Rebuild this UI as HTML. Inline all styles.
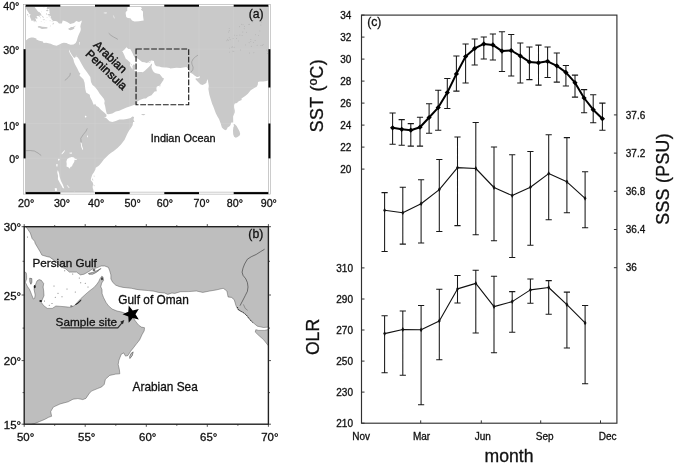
<!DOCTYPE html><html><head><meta charset="utf-8"><title>Figure</title>
<style>html,body{margin:0;padding:0;background:#fff}svg{display:block;will-change:transform}text{font-family:"Liberation Sans",Arial,Helvetica,sans-serif;fill:#111;stroke:#111;stroke-width:0.3px}</style></head><body>
<svg width="675" height="465" viewBox="0 0 675 465">
<rect width="675" height="465" fill="#fff"/>
<defs><clipPath id="ca"><rect x="25.6" y="6.7" width="242.8" height="185.4"/></clipPath>
<clipPath id="cb"><rect x="24.2" y="226.7" width="244.2" height="197.5"/></clipPath></defs>
<g clip-path="url(#ca)">
<rect x="25.6" y="6.7" width="242.8" height="185.4" fill="#c9c9c9"/>
<path d="M60.3 6.7V192.1" stroke="#d0d0d0" stroke-width="0.5"/>
<path d="M95.0 6.7V192.1" stroke="#d0d0d0" stroke-width="0.5"/>
<path d="M129.7 6.7V192.1" stroke="#d0d0d0" stroke-width="0.5"/>
<path d="M164.3 6.7V192.1" stroke="#d0d0d0" stroke-width="0.5"/>
<path d="M199.0 6.7V192.1" stroke="#d0d0d0" stroke-width="0.5"/>
<path d="M233.7 6.7V192.1" stroke="#d0d0d0" stroke-width="0.5"/>
<path d="M25.6 49.2H268.4" stroke="#d0d0d0" stroke-width="0.5"/>
<path d="M25.6 87.5H268.4" stroke="#d0d0d0" stroke-width="0.5"/>
<path d="M25.6 123.5H268.4" stroke="#d0d0d0" stroke-width="0.5"/>
<path d="M25.6 158.3H268.4" stroke="#d0d0d0" stroke-width="0.5"/>
<path d="M25.6 7.8 L26.3 9.0 L28.2 11.9 L29.4 14.1 L30.5 14.3 L30.5 14.7 L29.6 16.1 L30.1 17.2 L31.1 19.6 L31.5 20.8 L32.2 21.1 L33.1 20.1 L33.9 21.7 L34.2 22.6 L34.6 21.1 L35.5 21.3 L36.7 22.4 L36.0 20.2 L35.3 17.8 L36.5 18.7 L37.7 18.3 L36.4 16.1 L38.4 16.1 L39.7 17.2 L39.6 15.2 L41.6 15.6 L40.0 12.8 L37.7 11.4 L37.0 9.9 L35.8 8.7 L34.6 6.7 L37.4 6.7 L38.1 7.1 L39.1 6.9 L39.5 6.7 L40.5 6.7 L40.9 6.7 L47.1 6.7 L46.7 9.0 L48.5 9.0 L49.9 8.7 L49.0 9.9 L49.7 11.0 L49.2 12.3 L50.2 13.6 L48.8 13.9 L47.5 14.3 L48.1 15.2 L50.8 16.1 L50.6 18.3 L52.0 19.1 L51.4 19.9 L53.3 20.2 L51.3 21.4 L54.3 20.9 L55.4 21.1 L57.2 21.6 L59.0 23.5 L61.7 23.4 L62.2 22.2 L62.7 20.5 L64.8 20.9 L67.2 22.0 L70.2 24.1 L74.0 23.1 L76.2 21.0 L79.0 21.9 L80.8 21.1 L81.8 20.4 L81.6 21.9 L80.8 24.3 L80.3 26.4 L80.8 29.0 L80.5 30.9 L79.4 33.2 L78.3 35.8 L77.6 37.7 L76.8 40.8 L75.7 43.1 L73.5 44.6 L70.7 44.7 L68.3 44.0 L66.5 43.0 L63.8 42.7 L61.7 43.2 L59.9 44.3 L56.6 45.8 L53.3 44.9 L50.7 43.7 L46.1 42.7 L43.5 42.9 L42.9 41.5 L39.3 40.7 L36.4 39.6 L36.4 38.6 L34.8 37.9 L33.2 37.4 L31.1 37.4 L28.7 38.2 L25.8 40.6 L25.6 41.5Z" fill="#fff"/>
<path d="M69.1 49.6 L69.0 51.1 L70.0 53.5 L71.4 55.7 L72.8 57.7 L73.6 60.0 L74.0 62.0 L75.1 64.5 L77.3 68.4 L79.3 72.7 L80.4 72.9 L79.5 75.6 L83.4 79.2 L84.6 82.7 L85.3 88.9 L85.7 90.8 L86.1 92.6 L87.7 93.4 L89.8 94.8 L90.1 97.0 L92.2 101.0 L93.1 103.5 L93.9 105.0 L95.1 103.7 L96.4 105.9 L98.4 107.1 L100.9 109.8 L104.5 112.8 L105.7 113.9 L106.5 114.7 L106.4 116.5 L104.0 118.0 L105.9 117.8 L107.0 118.7 L109.5 121.3 L112.3 121.9 L115.8 121.0 L119.3 119.6 L123.4 119.4 L126.8 118.9 L130.7 118.0 L132.3 116.5 L134.1 117.0 L133.5 119.6 L134.5 121.9 L133.1 122.0 L132.6 125.2 L131.0 128.0 L129.1 130.5 L127.2 134.0 L124.6 139.7 L121.0 144.4 L117.5 148.1 L113.5 151.2 L111.5 152.4 L108.9 154.5 L106.1 157.3 L103.8 159.6 L101.6 162.5 L99.5 164.9 L98.1 166.2 L95.7 167.7 L95.4 169.5 L93.8 172.4 L92.5 174.3 L91.8 175.9 L90.8 179.2 L91.2 180.7 L92.5 182.0 L93.4 184.4 L92.7 185.8 L92.7 187.9 L93.2 189.3 L94.0 193.2 L94.6 193.9 L94.6 200.2 L271.9 200.2 L271.9 80.1 L268.4 80.2 L266.7 81.0 L264.9 81.2 L263.2 81.6 L261.5 81.4 L259.7 81.4 L258.0 82.1 L257.8 84.5 L256.9 86.5 L253.9 88.2 L250.7 90.2 L247.9 93.7 L245.2 95.9 L241.5 98.6 L241.7 99.9 L239.3 101.0 L237.7 102.1 L237.2 103.0 L234.8 103.5 L234.1 105.0 L234.1 107.5 L234.8 110.7 L234.7 112.5 L233.1 116.6 L233.2 120.7 L233.2 122.4 L231.3 122.4 L230.6 124.7 L229.9 126.1 L227.3 127.7 L227.1 129.3 L225.2 130.2 L223.1 128.8 L221.9 127.4 L220.7 123.6 L219.0 119.0 L217.6 116.8 L215.8 113.3 L213.3 106.4 L212.2 103.9 L210.5 98.5 L209.4 94.8 L208.8 91.4 L208.4 89.0 L208.8 86.0 L208.4 83.4 L208.0 81.2 L207.7 79.1 L206.8 81.0 L206.3 83.0 L204.2 84.2 L202.4 84.9 L200.3 84.2 L197.6 81.4 L195.5 79.2 L195.8 78.3 L198.0 78.6 L200.1 77.2 L199.7 76.3 L198.0 77.1 L196.8 76.9 L194.5 75.6 L192.8 74.0 L190.4 72.7 L189.7 71.4 L188.6 69.4 L187.2 67.9 L186.5 67.0 L183.4 67.4 L180.4 67.9 L176.4 67.7 L172.4 68.3 L170.4 68.5 L169.5 68.1 L166.5 67.6 L164.3 67.4 L161.6 67.2 L159.1 66.6 L156.6 66.3 L155.0 65.1 L154.3 62.9 L153.9 61.0 L151.4 60.4 L149.1 61.6 L148.0 62.4 L146.6 62.9 L144.5 62.2 L142.1 62.0 L140.8 61.0 L138.7 59.2 L136.8 57.9 L134.9 57.7 L133.5 55.5 L132.6 53.3 L131.4 50.9 L130.2 49.0 L128.3 49.0 L126.5 47.3 L125.8 47.9 L124.5 49.4 L123.1 50.7 L121.9 51.5 L122.7 51.7 L124.1 54.7 L125.8 58.7 L127.2 59.8 L128.5 61.0 L130.2 62.4 L130.4 64.1 L129.8 65.1 L130.4 66.2 L131.6 67.9 L132.4 69.7 L132.6 67.6 L132.3 66.6 L133.1 64.9 L133.9 64.3 L135.2 65.3 L135.0 67.6 L135.3 68.9 L134.2 70.4 L135.2 71.6 L135.7 72.5 L138.7 72.0 L141.5 72.1 L142.8 72.3 L144.8 70.7 L148.0 67.7 L150.3 65.6 L150.8 64.5 L151.9 63.4 L152.0 65.1 L151.4 66.3 L151.7 68.3 L153.1 71.2 L155.0 73.1 L158.0 73.7 L159.5 74.0 L160.6 75.3 L162.7 77.9 L163.8 78.1 L163.5 80.1 L162.1 82.1 L160.5 84.5 L159.5 85.8 L158.1 86.0 L156.7 86.8 L156.4 88.8 L156.8 91.2 L154.6 91.5 L152.5 94.1 L151.5 95.2 L148.0 96.8 L146.0 98.5 L143.9 98.5 L140.4 99.8 L137.3 101.4 L137.4 103.4 L135.6 104.4 L133.9 105.0 L129.7 106.4 L126.6 107.4 L122.0 109.6 L119.3 110.7 L115.8 111.6 L112.3 113.6 L108.8 114.3 L106.9 114.1 L106.2 111.7 L105.7 109.3 L105.2 106.4 L104.3 103.2 L104.7 101.0 L103.8 98.8 L101.6 95.9 L99.7 93.7 L97.9 90.7 L95.0 86.9 L92.5 84.9 L91.0 81.9 L90.3 77.1 L87.0 72.2 L84.2 68.6 L81.6 64.0 L79.2 59.6 L77.6 57.3 L76.2 57.1 L76.7 55.1 L75.2 57.5 L74.9 58.1 L73.5 57.3 L72.1 55.3 L70.7 53.1 L69.7 51.1Z" fill="#fff"/>
<path d="M127.7 5.8 L127.6 6.9 L127.1 9.4 L127.6 10.1 L125.7 12.3 L125.7 13.7 L126.2 16.9 L127.8 18.0 L130.4 18.3 L132.0 20.4 L134.5 21.4 L138.8 21.2 L141.8 20.7 L143.7 20.4 L143.4 18.5 L143.0 15.6 L143.0 11.6 L140.8 9.6 L142.0 8.5 L140.1 5.8Z" fill="#fff"/>
<path d="M37.9 26.2 L39.8 26.0 L42.2 26.8 L45.4 27.1 L47.5 27.3 L47.3 28.4 L44.7 28.7 L41.9 28.9 L39.5 27.7 L37.9 27.5Z" fill="#c9c9c9"/>
<path d="M68.3 28.4 L70.3 27.7 L70.7 27.0 L72.8 27.1 L76.2 25.6 L74.2 27.3 L74.3 28.6 L72.8 29.4 L70.7 30.3 L68.8 29.8Z" fill="#c9c9c9"/>
<path d="M52.5 23.7 L54.0 22.4 L53.7 24.1 L52.7 24.7Z" fill="#c9c9c9"/>
<path d="M45.9 10.3 L47.8 9.6 L48.5 11.0 L46.8 11.2Z" fill="#c9c9c9"/>
<path d="M46.1 13.2 L46.9 13.2 L46.8 14.7 L46.1 14.5Z" fill="#c9c9c9"/>
<path d="M48.5 16.5 L50.1 16.7 L49.2 17.2Z" fill="#c9c9c9"/>
<path d="M27.0 14.3 L28.0 13.9 L28.4 15.2 L27.3 15.4Z" fill="#c9c9c9"/>
<path d="M27.9 16.1 L28.9 16.7 L28.4 17.2Z" fill="#c9c9c9"/>
<path d="M44.3 19.1 L45.0 19.6 L44.7 20.2 L44.2 19.8Z" fill="#c9c9c9"/>
<path d="M41.9 15.7 L42.8 16.3 L42.4 16.9Z" fill="#c9c9c9"/>
<path d="M50.2 24.7 L50.6 26.0 L50.2 26.9Z" fill="#c9c9c9"/>
<path d="M234.6 124.1 L233.4 124.5 L234.1 125.9 L233.4 127.0 L233.0 130.5 L233.2 134.2 L234.1 136.8 L235.8 137.7 L237.6 137.0 L239.6 135.4 L240.2 134.0 L239.6 131.5 L238.0 128.5 L236.6 126.0Z" fill="#c9c9c9"/>
<path d="M141.1 114.4 L142.5 114.0 L144.2 114.1 L145.4 114.4 L143.9 115.2 L141.8 115.1Z" fill="#c9c9c9"/>
<path d="M92.2 178.3 L92.7 178.8 L93.4 180.2 L92.9 180.7 L92.2 179.5Z" fill="#c9c9c9"/>
<path d="M93.9 175.3 L94.5 176.0 L94.1 177.2 L93.8 176.4Z" fill="#c9c9c9"/>
<path d="M93.8 185.1 L94.6 185.3 L94.3 186.2 L93.6 186.0Z" fill="#c9c9c9"/>
<path d="M160.6 85.0 L160.2 86.6 L159.6 86.9 L159.8 85.6Z" fill="#c9c9c9"/>
<path d="M148.0 62.5 L150.1 61.8 L151.4 61.2 L150.5 62.2 L149.1 62.7Z" fill="#c9c9c9"/>
<path d="M131.2 63.9 L131.9 64.1 L131.7 65.4 L131.4 65.1Z" fill="#c9c9c9"/>
<path d="M36.0 11.4 L37.4 11.2 L40.0 12.8 L41.6 15.2 L40.9 15.8 L39.5 14.1 L37.4 13.0Z" fill="#c9c9c9"/>
<path d="M42.6 16.1 L44.0 17.4 L43.6 17.8 L42.2 16.9Z" fill="#c9c9c9"/>
<path d="M42.9 19.3 L44.0 19.6 L43.6 20.2 L42.9 20.0Z" fill="#c9c9c9"/>
<path d="M40.7 21.1 L41.6 21.1 L41.2 21.7Z" fill="#c9c9c9"/>
<path d="M44.2 22.2 L44.7 22.6 L44.3 23.0Z" fill="#c9c9c9"/>
<path d="M49.5 20.4 L51.1 20.7 L49.9 21.3Z" fill="#c9c9c9"/>
<path d="M43.3 6.9 L44.5 6.9 L44.0 7.6Z" fill="#c9c9c9"/>
<path d="M41.0 11.4 L41.9 11.9 L41.2 12.3Z" fill="#c9c9c9"/>
<path d="M40.3 17.2 L41.0 17.4 L40.7 18.5Z" fill="#c9c9c9"/>
<path d="M46.4 17.2 L47.6 16.9 L47.1 17.8Z" fill="#c9c9c9"/>
<path d="M45.5 20.4 L46.4 20.4 L46.1 21.1Z" fill="#c9c9c9"/>
<path d="M49.5 26.7 L49.9 26.9 L49.7 27.3Z" fill="#c9c9c9"/>
<path d="M66.4 161.4 L67.2 159.0 L69.3 157.8 L71.7 157.1 L74.0 157.6 L74.9 158.7 L77.1 159.0 L76.2 159.9 L74.5 159.7 L74.3 161.8 L72.4 164.9 L72.1 166.3 L70.3 167.0 L70.0 168.7 L68.3 167.3 L66.5 166.6 L66.7 163.9Z" fill="#fff"/>
<path d="M57.9 169.9 L59.1 173.6 L59.6 176.7 L61.0 180.9 L62.9 184.8 L64.3 188.6 L62.7 187.9 L61.8 186.2 L59.8 182.7 L57.9 179.2 L58.0 175.7 L57.2 172.2Z" fill="#fff"/>
<path d="M73.8 191.4 L74.5 191.8 L76.1 194.9 L74.9 195.3Z" fill="#fff"/>
<path d="M80.6 142.5 L81.6 143.0 L82.0 145.8 L83.2 149.3 L82.5 150.0 L81.3 146.9Z" fill="#fff"/>
<path d="M61.8 154.5 L63.8 152.4 L65.1 150.5 L64.6 150.3 L63.1 151.7 L61.5 153.8Z" fill="#fff"/>
<path d="M84.7 116.4 L85.8 115.5 L86.6 116.7 L85.6 117.8Z" fill="#fff"/>
<path d="M79.0 42.1 L79.6 42.1 L79.5 44.7 L79.0 44.7Z" fill="#fff"/>
<path d="M56.3 164.0 L57.7 164.2 L57.3 166.8 L56.3 166.3Z" fill="#fff"/>
<path d="M66.5 184.8 L67.9 185.8 L69.7 187.9 L68.3 187.6Z" fill="#fff"/>
<path d="M54.7 188.3 L56.6 188.1 L57.2 190.7 L55.1 191.1Z" fill="#fff"/>
<path d="M58.2 158.7 L59.8 159.0 L59.2 160.6 L58.0 160.4Z" fill="#fff"/>
<path d="M69.3 152.8 L72.1 152.6 L71.7 153.8 L69.7 153.5Z" fill="#fff"/>
<path d="M87.0 135.4 L88.0 135.7 L87.7 137.5 L87.0 137.1Z" fill="#fff"/>
<path d="M108.7 33.2 L110.9 35.3 L113.4 36.9 L115.8 38.2 L117.9 39.4" fill="none" stroke="#8c8c8c" stroke-width="0.55"/>
<path d="M190.7 72.5 L192.8 69.9 L193.1 67.2 L191.9 64.1 L191.7 61.8 L193.1 59.0 L195.6 56.7 L198.0 55.1" fill="none" stroke="#8c8c8c" stroke-width="0.55"/>
<path d="M25.6 150.7 L30.1 150.5 L34.3 151.0 L38.1 153.1 L41.2 155.5" fill="none" stroke="#8c8c8c" stroke-width="0.55"/>
<path d="M81.1 142.3 L80.8 138.2 L83.2 134.7 L86.0 131.2 L87.3 128.4" fill="none" stroke="#8c8c8c" stroke-width="0.55"/>
<path d="M70.3 72.9 L70.0 75.2 L68.3 77.4 L66.2 79.3 L64.8 80.4" fill="none" stroke="#8c8c8c" stroke-width="0.55"/>
<circle cx="240.3" cy="50.0" r="0.45" fill="#a8a8a8"/>
<circle cx="253.9" cy="52.7" r="0.45" fill="#a8a8a8"/>
<circle cx="249.1" cy="42.7" r="0.45" fill="#a8a8a8"/>
<circle cx="229.2" cy="37.7" r="0.45" fill="#a8a8a8"/>
<circle cx="228.3" cy="40.3" r="0.45" fill="#a8a8a8"/>
<circle cx="229.7" cy="52.1" r="0.45" fill="#a8a8a8"/>
<circle cx="244.4" cy="26.3" r="0.45" fill="#a8a8a8"/>
<circle cx="231.9" cy="47.6" r="0.45" fill="#a8a8a8"/>
<circle cx="252.9" cy="21.9" r="0.45" fill="#a8a8a8"/>
<circle cx="250.8" cy="41.6" r="0.45" fill="#a8a8a8"/>
<circle cx="267.4" cy="53.5" r="0.45" fill="#a8a8a8"/>
<circle cx="262.5" cy="45.3" r="0.45" fill="#a8a8a8"/>
<circle cx="232.8" cy="51.1" r="0.45" fill="#a8a8a8"/>
<circle cx="239.6" cy="26.7" r="0.45" fill="#a8a8a8"/>
<circle cx="234.3" cy="35.1" r="0.45" fill="#a8a8a8"/>
<circle cx="253.4" cy="42.4" r="0.45" fill="#a8a8a8"/>
<circle cx="249.6" cy="53.0" r="0.45" fill="#a8a8a8"/>
<circle cx="229.3" cy="48.1" r="0.45" fill="#a8a8a8"/>
<circle cx="255.1" cy="40.5" r="0.45" fill="#a8a8a8"/>
<circle cx="239.9" cy="35.0" r="0.45" fill="#a8a8a8"/>
<circle cx="245.6" cy="44.9" r="0.45" fill="#a8a8a8"/>
<circle cx="259.8" cy="30.9" r="0.45" fill="#a8a8a8"/>
<circle cx="236.9" cy="35.4" r="0.45" fill="#a8a8a8"/>
<circle cx="248.6" cy="24.6" r="0.45" fill="#a8a8a8"/>
<circle cx="257.1" cy="45.3" r="0.45" fill="#a8a8a8"/>
<circle cx="267.6" cy="51.1" r="0.45" fill="#a8a8a8"/>
<circle cx="244.2" cy="28.8" r="0.45" fill="#a8a8a8"/>
<circle cx="233.1" cy="38.4" r="0.45" fill="#a8a8a8"/>
<circle cx="228.4" cy="32.0" r="0.45" fill="#a8a8a8"/>
<circle cx="258.6" cy="35.4" r="0.45" fill="#a8a8a8"/>
<circle cx="263.2" cy="44.4" r="0.45" fill="#a8a8a8"/>
<circle cx="255.7" cy="34.7" r="0.45" fill="#a8a8a8"/>
<circle cx="250.9" cy="39.5" r="0.45" fill="#a8a8a8"/>
<circle cx="261.7" cy="22.0" r="0.45" fill="#a8a8a8"/>
<circle cx="246.5" cy="32.2" r="0.45" fill="#a8a8a8"/>
<circle cx="229.3" cy="30.8" r="0.45" fill="#a8a8a8"/>
<circle cx="253.7" cy="20.3" r="0.45" fill="#a8a8a8"/>
<circle cx="261.0" cy="45.5" r="0.45" fill="#a8a8a8"/>
<circle cx="242.8" cy="32.0" r="0.45" fill="#a8a8a8"/>
<circle cx="227.7" cy="39.3" r="0.45" fill="#a8a8a8"/>
<circle cx="233.8" cy="51.2" r="0.45" fill="#a8a8a8"/>
<circle cx="229.2" cy="28.4" r="0.45" fill="#a8a8a8"/>
<circle cx="232.2" cy="46.7" r="0.45" fill="#a8a8a8"/>
<circle cx="243.0" cy="24.7" r="0.45" fill="#a8a8a8"/>
<circle cx="230.1" cy="39.8" r="0.45" fill="#a8a8a8"/>
<circle cx="249.6" cy="24.3" r="0.45" fill="#a8a8a8"/>
<circle cx="260.9" cy="25.0" r="0.45" fill="#a8a8a8"/>
<circle cx="238.4" cy="40.9" r="0.45" fill="#a8a8a8"/>
<circle cx="241.7" cy="24.2" r="0.45" fill="#a8a8a8"/>
<circle cx="266.6" cy="50.0" r="0.45" fill="#a8a8a8"/>
<circle cx="234.1" cy="47.3" r="0.45" fill="#a8a8a8"/>
<circle cx="236.5" cy="38.5" r="0.45" fill="#a8a8a8"/>
<circle cx="251.3" cy="46.2" r="0.45" fill="#a8a8a8"/>
<circle cx="226.9" cy="40.8" r="0.45" fill="#a8a8a8"/>
<circle cx="242.1" cy="35.6" r="0.45" fill="#a8a8a8"/>
<path d="M103.3 13.0 L104.7 11.9 L106.8 12.1 L106.8 13.4 L105.4 13.9Z" fill="#e2e2e2"/>
<path d="M112.8 15.2 L113.5 15.2 L114.9 17.8 L114.4 18.7 L113.5 17.6Z" fill="#e2e2e2"/>
</g>
<rect x="23.6" y="4.7" width="246.8" height="189.4" fill="none" stroke="#999" stroke-width="0.5"/>
<rect x="25.6" y="6.7" width="242.8" height="185.4" fill="none" stroke="#999" stroke-width="0.5"/>
<rect x="25.6" y="4.7" width="34.7" height="2.0" fill="#000"/>
<rect x="25.6" y="192.1" width="34.7" height="2.0" fill="#000"/>
<rect x="95.0" y="4.7" width="34.7" height="2.0" fill="#000"/>
<rect x="95.0" y="192.1" width="34.7" height="2.0" fill="#000"/>
<rect x="164.3" y="4.7" width="34.7" height="2.0" fill="#000"/>
<rect x="164.3" y="192.1" width="34.7" height="2.0" fill="#000"/>
<rect x="233.7" y="4.7" width="34.7" height="2.0" fill="#000"/>
<rect x="233.7" y="192.1" width="34.7" height="2.0" fill="#000"/>
<rect x="23.6" y="49.2" width="2.0" height="38.3" fill="#000"/>
<rect x="268.4" y="49.2" width="2.0" height="38.3" fill="#000"/>
<rect x="23.6" y="123.5" width="2.0" height="34.9" fill="#000"/>
<rect x="268.4" y="123.5" width="2.0" height="34.9" fill="#000"/>
<text x="19.4" y="10.0" font-size="10.7" text-anchor="end">40&#176;</text>
<text x="19.4" y="53.6" font-size="10.7" text-anchor="end">30&#176;</text>
<text x="19.4" y="93.3" font-size="10.7" text-anchor="end">20&#176;</text>
<text x="19.4" y="130.2" font-size="10.7" text-anchor="end">10&#176;</text>
<text x="19.4" y="163.3" font-size="10.7" text-anchor="end">0&#176;</text>
<text x="26.1" y="207.0" font-size="10.7" text-anchor="middle">20&#176;</text>
<text x="62.0" y="207.0" font-size="10.7" text-anchor="middle">30&#176;</text>
<text x="96.1" y="207.0" font-size="10.7" text-anchor="middle">40&#176;</text>
<text x="132.6" y="207.0" font-size="10.7" text-anchor="middle">50&#176;</text>
<text x="164.9" y="207.0" font-size="10.7" text-anchor="middle">60&#176;</text>
<text x="201.6" y="207.0" font-size="10.7" text-anchor="middle">70&#176;</text>
<text x="234.9" y="207.0" font-size="10.7" text-anchor="middle">80&#176;</text>
<text x="268.8" y="207.0" font-size="10.7" text-anchor="middle">90&#176;</text>
<rect x="136.05" y="49.0" width="52.65" height="55.7" fill="none" stroke="#1a1a1a" stroke-width="1.15" stroke-dasharray="5.8 1.75"/>
<text x="256.2" y="17.9" font-size="12.2" text-anchor="middle">(a)</text>
<text x="150.8" y="142" font-size="10.9">Indian Ocean</text>
<text transform="translate(92.7,45.8) rotate(43.5)" font-size="11.85" style="stroke-width:0.45px">Arabian</text>
<text transform="translate(84.7,54.8) rotate(43.5)" font-size="11.85" style="stroke-width:0.45px">Peninsula</text>
<g clip-path="url(#cb)">
<rect x="24.2" y="226.7" width="244.2" height="197.5" fill="#bebebe"/>
<path d="M21.8 270.8 L21.8 222.5 L24.2 225.0 L25.4 226.0 L27.9 229.5 L30.3 233.0 L32.1 238.5 L34.6 241.3 L35.2 243.4 L37.6 247.5 L40.1 251.7 L41.9 255.1 L47.4 256.7 L49.8 257.2 L53.5 259.9 L55.9 261.9 L60.8 266.7 L65.7 268.8 L69.4 272.1 L76.7 272.1 L80.4 274.9 L84.0 274.2 L88.9 271.5 L92.6 268.8 L96.2 268.1 L101.1 266.0 L104.8 266.0 L108.4 267.4 L109.7 270.8 L110.9 274.9 L110.9 278.9 L112.7 282.3 L115.8 285.2 L119.1 286.5 L123.1 287.4 L131.6 288.3 L136.5 289.4 L141.4 290.0 L148.7 290.6 L153.9 291.2 L158.5 292.4 L164.6 293.0 L167.7 294.4 L171.9 293.0 L174.7 293.4 L180.5 291.7 L188.7 291.6 L196.4 291.0 L202.8 292.4 L209.8 291.0 L215.9 290.0 L223.2 288.3 L226.9 291.0 L228.1 297.0 L231.5 297.4 L234.2 299.7 L236.0 305.7 L237.9 309.7 L242.8 312.3 L246.4 315.0 L249.5 318.9 L252.5 322.2 L257.4 326.2 L263.5 327.5 L268.4 327.1 L272.1 326.8 L272.1 329.2 L268.4 329.5 L264.7 330.4 L258.6 330.4 L255.8 329.7 L255.3 332.1 L258.6 335.3 L263.5 339.6 L268.4 345.8 L272.1 348.4 L272.1 426.7 L24.2 426.7 L30.3 424.8 L35.6 423.2 L39.2 421.7 L44.7 419.4 L48.6 417.3 L51.6 416.3 L50.7 411.6 L53.3 407.1 L60.0 404.0 L62.1 403.4 L68.2 401.8 L73.0 399.2 L77.9 398.6 L82.8 399.6 L85.9 398.4 L88.9 393.9 L91.4 391.1 L97.5 388.6 L101.7 386.9 L104.2 384.4 L105.4 379.3 L109.7 375.4 L115.8 374.1 L119.8 373.8 L119.4 369.7 L118.2 364.5 L118.8 360.6 L120.0 357.4 L121.3 354.2 L123.7 352.9 L125.5 356.1 L128.0 355.5 L130.4 351.6 L133.5 347.7 L136.5 343.8 L139.6 339.9 L142.0 334.7 L144.2 330.8 L144.5 327.7 L141.4 327.1 L138.4 324.9 L135.3 320.9 L133.1 317.6 L131.0 314.3 L129.2 313.3 L125.5 313.4 L121.9 312.1 L117.0 311.0 L112.1 309.0 L108.4 305.7 L106.0 302.4 L103.6 297.7 L102.1 293.7 L102.0 289.7 L100.8 286.7 L101.7 283.0 L103.6 280.3 L103.0 276.9 L101.7 276.2 L99.9 278.9 L98.7 281.6 L96.8 284.3 L93.8 287.7 L90.1 290.4 L87.7 292.4 L84.0 295.7 L80.4 299.0 L77.6 302.1 L74.3 305.7 L70.6 307.4 L65.7 306.8 L60.8 306.4 L55.9 306.0 L52.3 308.4 L47.4 308.4 L43.7 305.7 L41.3 302.4 L41.9 300.4 L44.0 295.7 L43.7 291.0 L43.1 287.0 L43.7 283.6 L41.3 280.3 L39.1 279.6 L37.0 280.9 L34.6 287.0 L34.0 289.0 L35.2 295.0 L34.6 298.4 L33.4 299.0 L31.5 294.4 L29.7 289.7 L27.3 286.3 L25.4 282.3 L26.6 278.9 L26.6 275.5 L26.2 272.8 L24.2 271.5Z" fill="#fff" stroke="#4a4a4a" stroke-width="0.45"/>
<path d="M88.5 273.5 L92.6 272.4 L96.8 270.8 L100.9 268.5 L99.3 270.1 L96.2 272.4 L92.6 274.2 L88.9 274.2Z" fill="#bebebe" stroke="#333" stroke-width="0.5"/>
<path d="M29.7 278.2 L31.8 278.6 L31.8 282.3 L30.9 284.3 L29.9 281.9Z" fill="#bebebe" stroke="#333" stroke-width="0.5"/>
<path d="M133.2 351.9 L132.3 355.5 L129.9 358.5 L129.6 356.8 L131.0 353.5Z" fill="#bebebe" stroke="#333" stroke-width="0.5"/>
<path d="M264.6 249.2 L260.5 251.7 L256.3 254.4 L251.3 256.7 L247.4 259.2 L244.6 264.0 L243.0 268.1 L242.1 272.1 L243.0 275.3 L245.8 278.9 L247.4 282.6 L248.0 287.0 L247.4 291.3 L245.2 295.7 L243.0 300.0 L240.0 305.7" fill="none" stroke="#333" stroke-width="0.6" stroke-linejoin="round"/>
<path d="M237.3 307.0 L239.1 310.3 L243.4 312.6 L246.4 315.2 L249.5 319.2 L252.5 322.5" fill="none" stroke="#222" stroke-width="0.9" stroke-dasharray="1.2 0.9"/>
<path d="M243.4 304.4 L245.2 308.4 L247.6 310.3" fill="none" stroke="#444" stroke-width="0.4"/>
<ellipse cx="34.7" cy="286.7" rx="1.0" ry="1.6" fill="#222"/>
<ellipse cx="40.7" cy="300.9" rx="1.4" ry="1.0" fill="#222"/>
<ellipse cx="102.0" cy="278.7" rx="0.8" ry="1.5" fill="#222"/>
<ellipse cx="94.0" cy="270.0" rx="1.4" ry="0.8" fill="#222"/>
<ellipse cx="71.3" cy="306.0" rx="1.3" ry="0.6" fill="#222"/>
<path d="M75.6 305.2 L78.2 303.6 L80.9 301.0 L81.6 299.6 L80.2 300.2 L77.9 302.4 L75.3 304.2Z" fill="#222"/>
<circle cx="54.0" cy="286.0" r="0.55" fill="#777"/>
<circle cx="58.0" cy="293.3" r="0.55" fill="#777"/>
<circle cx="62.0" cy="296.7" r="0.55" fill="#777"/>
<circle cx="79.3" cy="278.0" r="0.55" fill="#777"/>
<circle cx="80.7" cy="282.7" r="0.55" fill="#777"/>
<circle cx="85.3" cy="283.3" r="0.55" fill="#777"/>
<circle cx="75.3" cy="292.0" r="0.55" fill="#777"/>
<circle cx="55.3" cy="297.3" r="0.55" fill="#777"/>
<circle cx="49.3" cy="305.3" r="0.55" fill="#777"/>
<circle cx="72.7" cy="274.0" r="0.55" fill="#777"/>
<circle cx="64.7" cy="270.7" r="0.55" fill="#777"/>
<circle cx="27.5" cy="237.0" r="0.55" fill="#777"/>
<circle cx="44.5" cy="301.0" r="0.55" fill="#777"/>
<circle cx="52.0" cy="303.5" r="0.55" fill="#777"/>
<circle cx="88.0" cy="287.0" r="0.55" fill="#777"/>
<circle cx="67.0" cy="289.0" r="0.55" fill="#777"/>
</g>
<rect x="24.2" y="226.7" width="244.2" height="197.5" fill="none" stroke="#222" stroke-width="1.4"/>
<path d="M24.2 226.7v-2.6 M24.2 424.2v2.6" stroke="#2a2a2a" stroke-width="0.8"/>
<path d="M54.7 226.7v-1.6 M54.7 424.2v1.6" stroke="#2a2a2a" stroke-width="0.8"/>
<path d="M85.2 226.7v-2.6 M85.2 424.2v2.6" stroke="#2a2a2a" stroke-width="0.8"/>
<path d="M115.8 226.7v-1.6 M115.8 424.2v1.6" stroke="#2a2a2a" stroke-width="0.8"/>
<path d="M146.3 226.7v-2.6 M146.3 424.2v2.6" stroke="#2a2a2a" stroke-width="0.8"/>
<path d="M176.8 226.7v-1.6 M176.8 424.2v1.6" stroke="#2a2a2a" stroke-width="0.8"/>
<path d="M207.3 226.7v-2.6 M207.3 424.2v2.6" stroke="#2a2a2a" stroke-width="0.8"/>
<path d="M237.9 226.7v-1.6 M237.9 424.2v1.6" stroke="#2a2a2a" stroke-width="0.8"/>
<path d="M268.4 226.7v-2.6 M268.4 424.2v2.6" stroke="#2a2a2a" stroke-width="0.8"/>
<path d="M24.2 424.2h-2.6 M268.4 424.2h2.6" stroke="#2a2a2a" stroke-width="0.8"/>
<path d="M24.2 392.6h-1.6 M268.4 392.6h1.6" stroke="#2a2a2a" stroke-width="0.8"/>
<path d="M24.2 360.6h-2.6 M268.4 360.6h2.6" stroke="#2a2a2a" stroke-width="0.8"/>
<path d="M24.2 328.1h-1.6 M268.4 328.1h1.6" stroke="#2a2a2a" stroke-width="0.8"/>
<path d="M24.2 295.0h-2.6 M268.4 295.0h2.6" stroke="#2a2a2a" stroke-width="0.8"/>
<path d="M24.2 261.3h-1.6 M268.4 261.3h1.6" stroke="#2a2a2a" stroke-width="0.8"/>
<path d="M24.2 226.7h-2.6 M268.4 226.7h2.6" stroke="#2a2a2a" stroke-width="0.8"/>
<text transform="translate(21.1,231.3) scale(1.07,1)" font-size="10.7" text-anchor="end">30&#176;</text>
<text transform="translate(21.1,299.6) scale(1.07,1)" font-size="10.7" text-anchor="end">25&#176;</text>
<text transform="translate(21.1,365.2) scale(1.07,1)" font-size="10.7" text-anchor="end">20&#176;</text>
<text transform="translate(21.1,428.8) scale(1.07,1)" font-size="10.7" text-anchor="end">15&#176;</text>
<text transform="translate(25.6,441.0) scale(1.07,1)" font-size="10.7" text-anchor="middle">50&#176;</text>
<text transform="translate(86.7,441.0) scale(1.07,1)" font-size="10.7" text-anchor="middle">55&#176;</text>
<text transform="translate(147.7,441.0) scale(1.07,1)" font-size="10.7" text-anchor="middle">60&#176;</text>
<text transform="translate(208.7,441.0) scale(1.07,1)" font-size="10.7" text-anchor="middle">65&#176;</text>
<text transform="translate(269.8,441.0) scale(1.07,1)" font-size="10.7" text-anchor="middle">70&#176;</text>
<text x="255.8" y="237.8" font-size="12.2" text-anchor="middle">(b)</text>
<text x="32.5" y="266.8" font-size="11.7">Persian Gulf</text>
<text x="118.3" y="303.5" font-size="11.85">Gulf of Oman</text>
<text x="55.6" y="325.6" font-size="11.75">Sample site</text>
<text x="132.6" y="390.5" font-size="11.85">Arabian Sea</text>
<path d="M60.5 327.9H117.8L122 322.8" fill="none" stroke="#333" stroke-width="1.2"/>
<path d="M124.3 320 L120.2 321.8 L122.9 324.2Z" fill="#222"/>
<polygon points="128.7,305.6 132.7,310.4 138.8,308.9 135.5,314.2 138.8,319.5 132.7,318.0 128.7,322.8 128.3,316.6 122.5,314.2 128.3,311.8" fill="#000"/>
<rect x="361.5" y="15.1" width="255.4" height="408.1" fill="none" stroke="#303030" stroke-width="1.15"/>
<path d="M361.5 169.1h3.0" stroke="#303030" stroke-width="1"/>
<text x="351.3" y="172.7" font-size="10" text-anchor="end">20</text>
<path d="M361.5 147.1h3.0" stroke="#303030" stroke-width="1"/>
<text x="351.3" y="150.7" font-size="10" text-anchor="end">22</text>
<path d="M361.5 125.1h3.0" stroke="#303030" stroke-width="1"/>
<text x="351.3" y="128.7" font-size="10" text-anchor="end">24</text>
<path d="M361.5 103.1h3.0" stroke="#303030" stroke-width="1"/>
<text x="351.3" y="106.7" font-size="10" text-anchor="end">26</text>
<path d="M361.5 81.1h3.0" stroke="#303030" stroke-width="1"/>
<text x="351.3" y="84.7" font-size="10" text-anchor="end">28</text>
<path d="M361.5 59.1h3.0" stroke="#303030" stroke-width="1"/>
<text x="351.3" y="62.7" font-size="10" text-anchor="end">30</text>
<path d="M361.5 37.1h3.0" stroke="#303030" stroke-width="1"/>
<text x="351.3" y="40.7" font-size="10" text-anchor="end">32</text>
<path d="M361.5 15.1h3.0" stroke="#303030" stroke-width="1"/>
<text x="351.3" y="18.7" font-size="10" text-anchor="end">34</text>
<path d="M361.5 423.2h3.0" stroke="#303030" stroke-width="1"/>
<text x="353" y="426.8" font-size="10" text-anchor="end">210</text>
<path d="M361.5 392.1h3.0" stroke="#303030" stroke-width="1"/>
<text x="353" y="395.7" font-size="10" text-anchor="end">230</text>
<path d="M361.5 361.1h3.0" stroke="#303030" stroke-width="1"/>
<text x="353" y="364.7" font-size="10" text-anchor="end">250</text>
<path d="M361.5 330.0h3.0" stroke="#303030" stroke-width="1"/>
<text x="353" y="333.6" font-size="10" text-anchor="end">270</text>
<path d="M361.5 299.0h3.0" stroke="#303030" stroke-width="1"/>
<text x="353" y="302.6" font-size="10" text-anchor="end">290</text>
<path d="M361.5 267.9h3.0" stroke="#303030" stroke-width="1"/>
<text x="353" y="271.5" font-size="10" text-anchor="end">310</text>
<path d="M616.9 114.9h-3.0" stroke="#303030" stroke-width="1"/>
<text x="625.8" y="118.5" font-size="10">37.6</text>
<path d="M616.9 153.1h-3.0" stroke="#303030" stroke-width="1"/>
<text x="625.8" y="156.7" font-size="10">37.2</text>
<path d="M616.9 191.3h-3.0" stroke="#303030" stroke-width="1"/>
<text x="625.8" y="194.9" font-size="10">36.8</text>
<path d="M616.9 229.5h-3.0" stroke="#303030" stroke-width="1"/>
<text x="625.8" y="233.1" font-size="10">36.4</text>
<path d="M616.9 267.7h-3.0" stroke="#303030" stroke-width="1"/>
<text x="625.8" y="271.3" font-size="10">36</text>
<text x="361.2" y="439.6" font-size="10" text-anchor="middle">Nov</text>
<path d="M420.7 423.2v-2.8" stroke="#303030" stroke-width="1"/>
<text x="421.5" y="439.6" font-size="10" text-anchor="middle">Mar</text>
<path d="M481.3 423.2v-2.8" stroke="#303030" stroke-width="1"/>
<text x="482.7" y="439.6" font-size="10" text-anchor="middle">Jun</text>
<path d="M540.7 423.2v-2.8" stroke="#303030" stroke-width="1"/>
<text x="544.7" y="439.6" font-size="10" text-anchor="middle">Sep</text>
<path d="M600.5 423.2v-2.8" stroke="#303030" stroke-width="1"/>
<text x="607.6" y="439.6" font-size="10" text-anchor="middle">Dec</text>
<text x="374.3" y="25.6" font-size="12.2" text-anchor="middle">(c)</text>
<text x="509" y="462.2" font-size="17.6" text-anchor="middle">month</text>
<text transform="translate(322.9,95.6) rotate(-90)" font-size="17.7" letter-spacing="0.38" text-anchor="middle">SST (&#186;C)</text>
<text transform="translate(319.4,337) rotate(-90)" font-size="17.6" text-anchor="middle">OLR</text>
<text transform="translate(669.3,178.9) rotate(-90)" font-size="17.7" letter-spacing="0.36" text-anchor="middle">SSS (PSU)</text>
<path d="M392.6 113.0V144.3 M389.5 113.0h6.2 M389.5 144.3h6.2 M401.7 119.6V145.2 M398.6 119.6h6.2 M398.6 145.2h6.2 M410.8 123.6V146.1 M407.7 123.6h6.2 M407.7 146.1h6.2 M420.0 117.2V146.1 M416.9 117.2h6.2 M416.9 146.1h6.2 M429.1 103.7V133.2 M426.0 103.7h6.2 M426.0 133.2h6.2 M438.2 90.2V130.2 M435.1 90.2h6.2 M435.1 130.2h6.2 M447.3 78.4V108.5 M444.2 78.4h6.2 M444.2 108.5h6.2 M456.4 55.9V91.1 M453.3 55.9h6.2 M453.3 91.1h6.2 M465.6 43.9V83.0 M462.5 43.9h6.2 M462.5 83.0h6.2 M474.7 39.0V64.9 M471.6 39.0h6.2 M471.6 64.9h6.2 M483.8 36.9V58.9 M480.7 36.9h6.2 M480.7 58.9h6.2 M492.9 33.9V59.9 M489.8 33.9h6.2 M489.8 59.9h6.2 M502.0 31.8V71.5 M498.9 31.8h6.2 M498.9 71.5h6.2 M511.2 34.5V76.0 M508.1 34.5h6.2 M508.1 76.0h6.2 M520.3 43.0V83.0 M517.2 43.0h6.2 M517.2 83.0h6.2 M529.4 46.9V79.6 M526.3 46.9h6.2 M526.3 79.6h6.2 M538.5 45.1V85.1 M535.4 45.1h6.2 M535.4 85.1h6.2 M547.6 46.9V77.5 M544.5 46.9h6.2 M544.5 77.5h6.2 M556.8 52.9V82.1 M553.7 52.9h6.2 M553.7 82.1h6.2 M565.9 65.5V86.0 M562.8 65.5h6.2 M562.8 86.0h6.2 M575.0 75.1V97.1 M571.9 75.1h6.2 M571.9 97.1h6.2 M584.1 89.6V112.7 M581.0 89.6h6.2 M581.0 112.7h6.2 M593.2 94.7V122.7 M590.1 94.7h6.2 M590.1 122.7h6.2 M602.4 103.1V130.2 M599.3 103.1h6.2 M599.3 130.2h6.2" fill="none" stroke="#181818" stroke-width="1.05"/>
<polyline points="392.6,127.8 401.7,129.3 410.8,130.2 420.0,127.2 429.1,117.5 438.2,107.6 447.3,92.6 456.4,73.9 465.6,56.5 474.7,48.4 483.8,43.9 492.9,44.9 502.0,51.1 511.2,50.5 520.3,55.9 529.4,61.9 538.5,62.8 547.6,61.3 556.8,65.8 565.9,72.4 575.0,82.7 584.1,98.0 593.2,109.7 602.4,118.7" fill="none" stroke="#000" stroke-width="2.0" stroke-linejoin="round"/>
<path d="M392.6 125.2l2.6 2.6l-2.6 2.6l-2.6 -2.6z" fill="#000"/>
<path d="M401.7 126.7l2.6 2.6l-2.6 2.6l-2.6 -2.6z" fill="#000"/>
<path d="M410.8 127.6l2.6 2.6l-2.6 2.6l-2.6 -2.6z" fill="#000"/>
<path d="M420.0 124.6l2.6 2.6l-2.6 2.6l-2.6 -2.6z" fill="#000"/>
<path d="M429.1 114.9l2.6 2.6l-2.6 2.6l-2.6 -2.6z" fill="#000"/>
<path d="M438.2 105.0l2.6 2.6l-2.6 2.6l-2.6 -2.6z" fill="#000"/>
<path d="M447.3 90.0l2.6 2.6l-2.6 2.6l-2.6 -2.6z" fill="#000"/>
<path d="M456.4 71.3l2.6 2.6l-2.6 2.6l-2.6 -2.6z" fill="#000"/>
<path d="M465.6 53.9l2.6 2.6l-2.6 2.6l-2.6 -2.6z" fill="#000"/>
<path d="M474.7 45.8l2.6 2.6l-2.6 2.6l-2.6 -2.6z" fill="#000"/>
<path d="M483.8 41.3l2.6 2.6l-2.6 2.6l-2.6 -2.6z" fill="#000"/>
<path d="M492.9 42.3l2.6 2.6l-2.6 2.6l-2.6 -2.6z" fill="#000"/>
<path d="M502.0 48.5l2.6 2.6l-2.6 2.6l-2.6 -2.6z" fill="#000"/>
<path d="M511.2 47.9l2.6 2.6l-2.6 2.6l-2.6 -2.6z" fill="#000"/>
<path d="M520.3 53.3l2.6 2.6l-2.6 2.6l-2.6 -2.6z" fill="#000"/>
<path d="M529.4 59.3l2.6 2.6l-2.6 2.6l-2.6 -2.6z" fill="#000"/>
<path d="M538.5 60.2l2.6 2.6l-2.6 2.6l-2.6 -2.6z" fill="#000"/>
<path d="M547.6 58.7l2.6 2.6l-2.6 2.6l-2.6 -2.6z" fill="#000"/>
<path d="M556.8 63.2l2.6 2.6l-2.6 2.6l-2.6 -2.6z" fill="#000"/>
<path d="M565.9 69.8l2.6 2.6l-2.6 2.6l-2.6 -2.6z" fill="#000"/>
<path d="M575.0 80.1l2.6 2.6l-2.6 2.6l-2.6 -2.6z" fill="#000"/>
<path d="M584.1 95.4l2.6 2.6l-2.6 2.6l-2.6 -2.6z" fill="#000"/>
<path d="M593.2 107.1l2.6 2.6l-2.6 2.6l-2.6 -2.6z" fill="#000"/>
<path d="M602.4 116.1l2.6 2.6l-2.6 2.6l-2.6 -2.6z" fill="#000"/>
<path d="M384.6 192.6V251.5 M381.5 192.6h6.2 M381.5 251.5h6.2 M402.8 187.2V244.1 M399.7 187.2h6.2 M399.7 244.1h6.2 M421.1 179.7V243.0 M418.0 179.7h6.2 M418.0 243.0h6.2 M439.3 159.5V231.5 M436.2 159.5h6.2 M436.2 231.5h6.2 M457.5 137.0V225.6 M454.4 137.0h6.2 M454.4 225.6h6.2 M475.8 122.5V234.7 M472.6 122.5h6.2 M472.6 234.7h6.2 M494.0 147.0V240.8 M490.9 147.0h6.2 M490.9 240.8h6.2 M512.2 154.7V257.5 M509.1 154.7h6.2 M509.1 257.5h6.2 M530.4 151.4V245.2 M527.3 151.4h6.2 M527.3 245.2h6.2 M548.7 134.8V219.7 M545.6 134.8h6.2 M545.6 219.7h6.2 M566.9 137.6V212.7 M563.8 137.6h6.2 M563.8 212.7h6.2 M585.1 171.8V227.8 M582.0 171.8h6.2 M582.0 227.8h6.2" fill="none" stroke="#181818" stroke-width="1.05"/>
<polyline points="384.6,210.3 402.8,212.7 421.1,203.7 439.3,189.6 457.5,167.6 475.8,168.5 494.0,187.5 512.2,195.6 530.4,187.2 548.7,173.6 566.9,181.8 585.1,198.3" fill="none" stroke="#111" stroke-width="1.1" stroke-linejoin="round"/>
<path d="M384.6 207.9l1.4 2.4l-1.4 2.4l-1.4 -2.4z" fill="#111"/>
<path d="M402.8 210.3l1.4 2.4l-1.4 2.4l-1.4 -2.4z" fill="#111"/>
<path d="M421.1 201.3l1.4 2.4l-1.4 2.4l-1.4 -2.4z" fill="#111"/>
<path d="M439.3 187.2l1.4 2.4l-1.4 2.4l-1.4 -2.4z" fill="#111"/>
<path d="M457.5 165.2l1.4 2.4l-1.4 2.4l-1.4 -2.4z" fill="#111"/>
<path d="M475.8 166.1l1.4 2.4l-1.4 2.4l-1.4 -2.4z" fill="#111"/>
<path d="M494.0 185.1l1.4 2.4l-1.4 2.4l-1.4 -2.4z" fill="#111"/>
<path d="M512.2 193.2l1.4 2.4l-1.4 2.4l-1.4 -2.4z" fill="#111"/>
<path d="M530.4 184.8l1.4 2.4l-1.4 2.4l-1.4 -2.4z" fill="#111"/>
<path d="M548.7 171.2l1.4 2.4l-1.4 2.4l-1.4 -2.4z" fill="#111"/>
<path d="M566.9 179.4l1.4 2.4l-1.4 2.4l-1.4 -2.4z" fill="#111"/>
<path d="M585.1 195.9l1.4 2.4l-1.4 2.4l-1.4 -2.4z" fill="#111"/>
<path d="M384.6 315.7V372.8 M381.5 315.7h6.2 M381.5 372.8h6.2 M402.8 310.9V375.2 M399.7 310.9h6.2 M399.7 375.2h6.2 M421.1 305.4V404.8 M418.0 305.4h6.2 M418.0 404.8h6.2 M439.3 289.2V359.7 M436.2 289.2h6.2 M436.2 359.7h6.2 M457.5 275.5V303.0 M454.4 275.5h6.2 M454.4 303.0h6.2 M475.8 270.3V332.9 M472.6 270.3h6.2 M472.6 332.9h6.2 M494.0 276.3V352.8 M490.9 276.3h6.2 M490.9 352.8h6.2 M512.2 291.6V332.2 M509.1 291.6h6.2 M509.1 332.2h6.2 M530.4 278.9V303.3 M527.3 278.9h6.2 M527.3 303.3h6.2 M548.7 280.6V314.3 M545.6 280.6h6.2 M545.6 314.3h6.2 M566.9 292.1V348.0 M563.8 292.1h6.2 M563.8 348.0h6.2 M585.1 305.4V383.8 M582.0 305.4h6.2 M582.0 383.8h6.2" fill="none" stroke="#181818" stroke-width="1.05"/>
<polyline points="384.6,333.6 402.8,329.5 421.1,329.8 439.3,320.9 457.5,288.9 475.8,283.4 494.0,306.6 512.2,301.6 530.4,289.9 548.7,287.5 566.9,304.7 585.1,322.9" fill="none" stroke="#111" stroke-width="1.1" stroke-linejoin="round"/>
<path d="M384.6 331.2l1.4 2.4l-1.4 2.4l-1.4 -2.4z" fill="#111"/>
<path d="M402.8 327.1l1.4 2.4l-1.4 2.4l-1.4 -2.4z" fill="#111"/>
<path d="M421.1 327.4l1.4 2.4l-1.4 2.4l-1.4 -2.4z" fill="#111"/>
<path d="M439.3 318.5l1.4 2.4l-1.4 2.4l-1.4 -2.4z" fill="#111"/>
<path d="M457.5 286.5l1.4 2.4l-1.4 2.4l-1.4 -2.4z" fill="#111"/>
<path d="M475.8 281.0l1.4 2.4l-1.4 2.4l-1.4 -2.4z" fill="#111"/>
<path d="M494.0 304.2l1.4 2.4l-1.4 2.4l-1.4 -2.4z" fill="#111"/>
<path d="M512.2 299.2l1.4 2.4l-1.4 2.4l-1.4 -2.4z" fill="#111"/>
<path d="M530.4 287.5l1.4 2.4l-1.4 2.4l-1.4 -2.4z" fill="#111"/>
<path d="M548.7 285.1l1.4 2.4l-1.4 2.4l-1.4 -2.4z" fill="#111"/>
<path d="M566.9 302.3l1.4 2.4l-1.4 2.4l-1.4 -2.4z" fill="#111"/>
<path d="M585.1 320.5l1.4 2.4l-1.4 2.4l-1.4 -2.4z" fill="#111"/>
</svg></body></html>
